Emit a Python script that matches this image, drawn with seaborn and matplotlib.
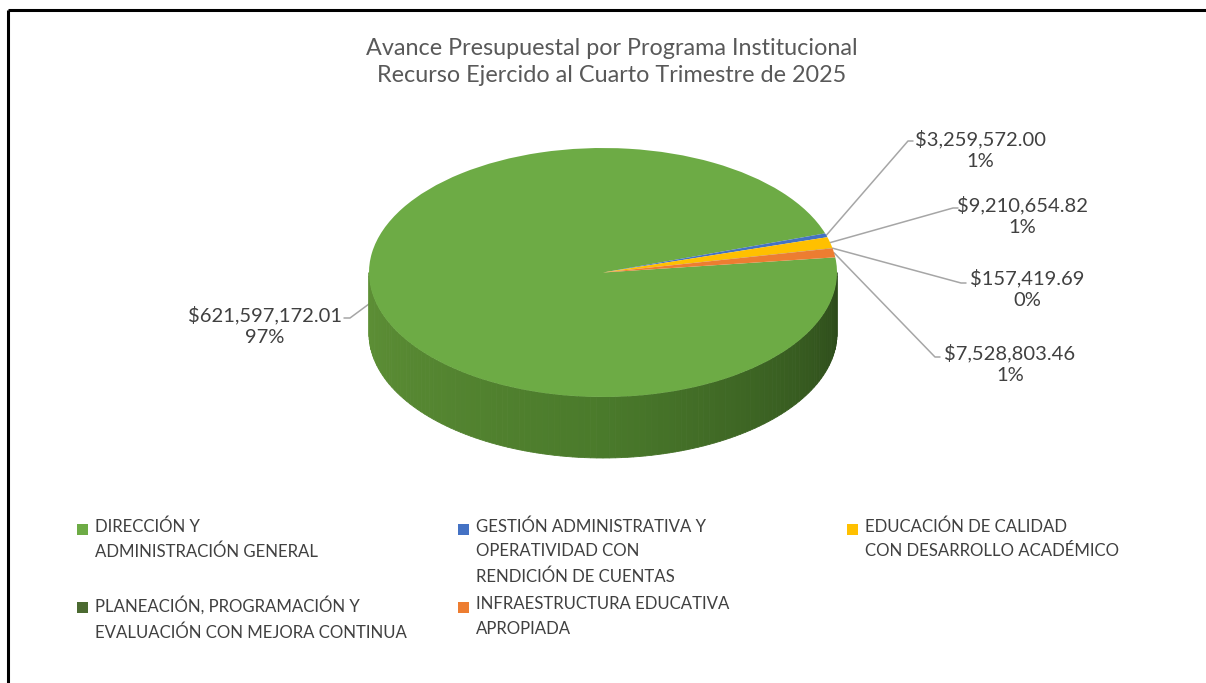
import numpy as np
import matplotlib
matplotlib.use("Agg")
import matplotlib.pyplot as plt
import seaborn as sns

# Datos del gráfico
programas = [
    "DIRECCIÓN Y\nADMINISTRACIÓN GENERAL",
    "GESTIÓN ADMINISTRATIVA Y\nOPERATIVIDAD CON\nRENDICIÓN DE CUENTAS",
    "EDUCACIÓN DE CALIDAD\nCON DESARROLLO ACADÉMICO",
    "PLANEACIÓN, PROGRAMACIÓN Y\nEVALUACIÓN CON MEJORA CONTINUA",
    "INFRAESTRUCTURA EDUCATIVA\nAPROPIADA",
]
montos = [621597172.01, 3259572.00, 9210654.82, 157419.69, 7528803.46]
colores = ["#6DAB45", "#4472C4", "#FFC000", "#4B6A31", "#ED7D31"]
titulo = "Avance Presupuestal por Programa Institucional\nRecurso Ejercido al Cuarto Trimestre de 2025"

sns.set_theme(style="white")
plt.rcParams["font.family"] = ["Lato", "DejaVu Sans"]
paleta = sns.color_palette(colores)

W, H = 1206, 683
fig = plt.figure(figsize=(W / 100, H / 100), dpi=100)
fig.patch.set_facecolor("white")

# Eje de fondo en pixeles (texto, leyenda, líneas guía)
bg = fig.add_axes([0, 0, 1, 1], zorder=0)
bg.set_xlim(0, W)
bg.set_ylim(H, 0)
bg.axis("off")

# Marco del gráfico
bg.plot([8, W], [10, 10], color="black", lw=2.2, solid_capstyle="butt")
bg.plot([8, 8], [10, H], color="black", lw=2.2, solid_capstyle="butt")

bg.text(612, 62, titulo, ha="center", va="center", fontsize=16.8,
        color="#595959", linespacing=1.4)

# Pastel "3D": cara superior elíptica
x0, x1, y0, y1 = 369, 837, 148, 397
ax = fig.add_axes([x0 / W, 1 - y1 / H, (x1 - x0) / W, (y1 - y0) / H], zorder=1)
wedges, _ = ax.pie(montos, colors=paleta, startangle=7, counterclock=False,
                   wedgeprops=dict(linewidth=0))
ax.set_aspect("auto")
ax.set_xlim(-1, 1)
ax.set_ylim(-1, 1)
ax.axis("off")

# Lateral del cilindro con degradado
prof = 61 / ((y1 - y0) / 2)
c_izq = np.array(matplotlib.colors.to_rgb("#5E9036"))
c_med = np.array(matplotlib.colors.to_rgb("#4A7A2B"))
c_der = np.array(matplotlib.colors.to_rgb("#2C4A1A"))
ts = np.linspace(np.pi, 2 * np.pi, 121)
for i in range(len(ts) - 1):
    t0, t1 = ts[i], ts[i + 1]
    f = i / (len(ts) - 2)
    c = c_izq + (c_med - c_izq) * (f / 0.5) if f < 0.5 else c_med + (c_der - c_med) * ((f - 0.5) / 0.5)
    poly = [(np.cos(t0), np.sin(t0)), (np.cos(t1), np.sin(t1)),
            (np.cos(t1), np.sin(t1) - prof), (np.cos(t0), np.sin(t0) - prof)]
    ax.add_patch(plt.Polygon(poly, closed=True, facecolor=c, edgecolor=c,
                             lw=0.6, zorder=0.5, clip_on=False))

# Etiquetas de datos con líneas guía
total = sum(montos)
pos_texto = [(265, 326), (980, 150), (1022, 216), (1027, 289), (1010, 364)]
codo = [(344, 318), (913, 141), (958, 208), (966, 283), (940, 357)]
lado = [6, -5, -5, -5, -5]
for w, m, (tx, ty), (cx, cy), d in zip(wedges, montos, pos_texto, codo, lado):
    ang = np.deg2rad((w.theta1 + w.theta2) / 2)
    disp = ax.transData.transform((np.cos(ang), np.sin(ang)))
    px, py = bg.transData.inverted().transform(disp)
    bg.plot([cx, cx + d, px], [cy, cy, py], color="#A6A6A6", lw=1.1, zorder=2)
    bg.text(tx, ty, f"${m:,.2f}\n{m / total * 100:.0f}%", ha="center", va="center",
            fontsize=14.5, color="#404040", linespacing=1.3)

# Leyenda
pos_leyenda = [(82, 530), (463, 530), (852, 530), (82, 608), (463, 608)]
for lab, col, (lx, ly) in zip(programas, paleta, pos_leyenda):
    bg.add_patch(plt.Rectangle((lx - 5, ly - 6), 11, 11, facecolor=col, edgecolor="none"))
    bg.text(lx + 13, ly - 12, lab, ha="left", va="top", fontsize=12.1,
            color="#404040", linespacing=1.68)

fig.savefig("out.png", dpi=100)
